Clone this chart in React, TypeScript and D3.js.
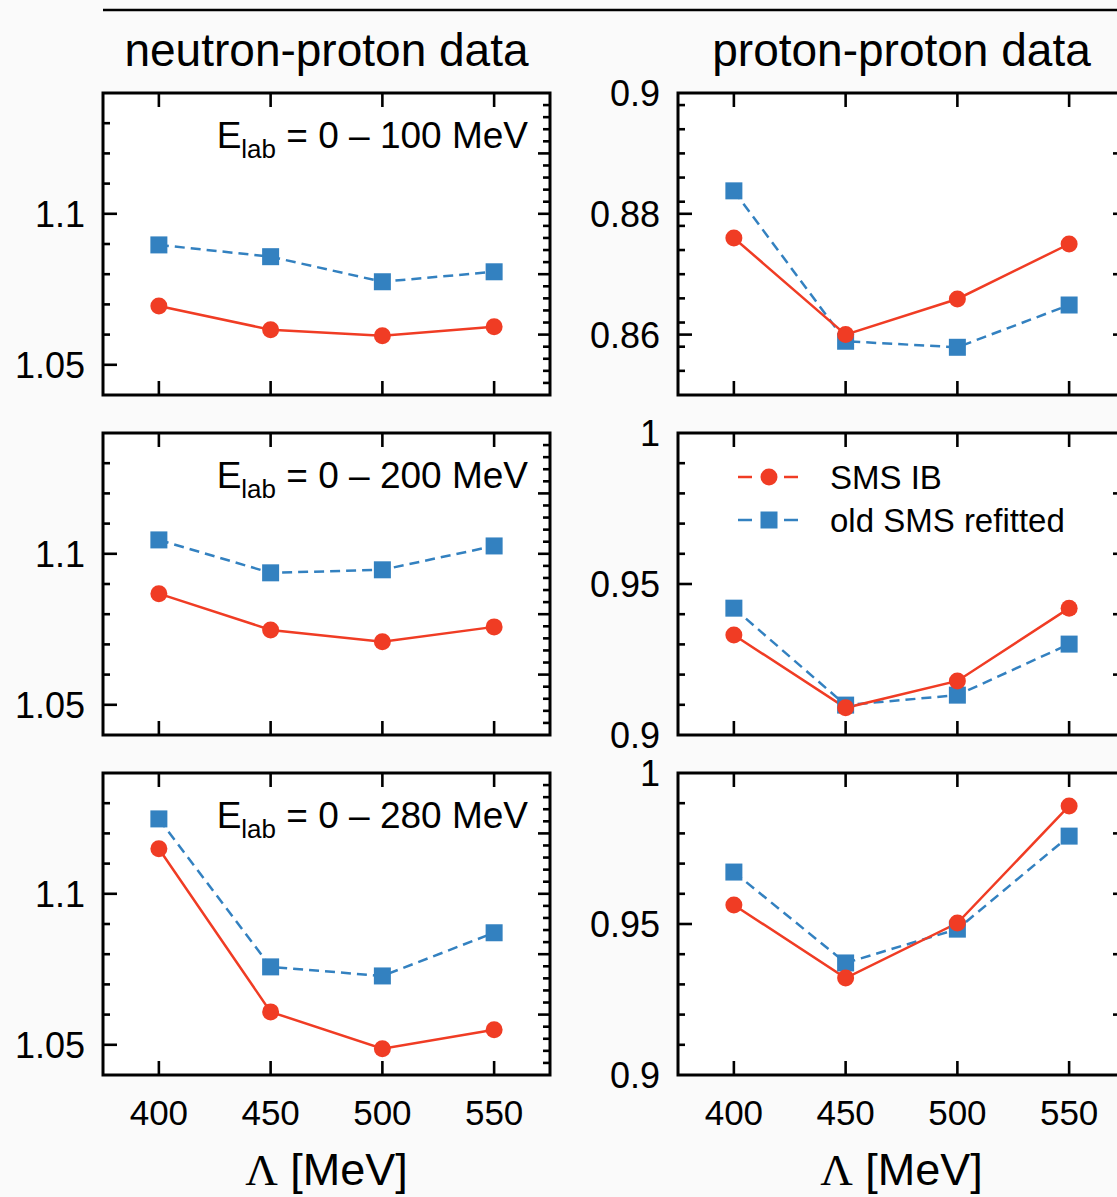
import React from "react";
import * as d3 from "d3";

const lambdas = [400, 450, 500, 550];
const energyRanges = ["0 – 100", "0 – 200", "0 – 280"];

// neutron-proton data (left column)
const npIB100 = [1.0695, 1.0616, 1.0596, 1.0626];
const npOld100 = [1.0897, 1.0858, 1.0775, 1.0808];
const npIB200 = [1.0868, 1.0748, 1.0709, 1.0758];
const npOld200 = [1.1046, 1.0937, 1.0947, 1.1026];
const npIB280 = [1.1149, 1.0609, 1.0487, 1.055];
const npOld280 = [1.1248, 1.0758, 1.0728, 1.0871];

// proton-proton data (right column)
const ppIB100 = [0.876, 0.86, 0.8659, 0.875];
const ppOld100 = [0.8838, 0.8589, 0.8579, 0.8649];
const ppIB200 = [0.9331, 0.909, 0.9179, 0.942];
const ppOld200 = [0.942, 0.9099, 0.9132, 0.9301];
const ppIB280 = [0.9563, 0.9321, 0.9503, 0.9891];
const ppOld280 = [0.9672, 0.9371, 0.9483, 0.9791];

const xTicks = [400, 450, 500, 550];
const xDomain = [375, 575];
const npDomain = [1.04, 1.14];
const ppDomains = [[0.85, 0.9], [0.9, 1.0], [0.9, 1.0]];
const npLabels = [1.05, 1.1];
const ppLabels = [[0.9, 0.88, 0.86], [1, 0.95, 0.9], [1, 0.95, 0.9]];

const legendLabels = ["SMS IB", "old SMS refitted"];

const RED = "#f03c24";
const BLUE = "#3381c0";
const FONT = "'Liberation Sans', Arial, Helvetica, sans-serif";

const W = 1117;
const H = 1197;
const PW = 447;
const PH = 302;
const COLX = [103, 678];
const ROWY = [93, 433, 773];

function range(a: number, b: number, step: number) {
  const out: number[] = [];
  const n = Math.round((b - a) / step);
  for (let i = 0; i <= n; i++) out.push(+(a + i * step).toFixed(6));
  return out;
}

function fmt(v: number) {
  return String(+v.toFixed(3));
}

type PanelProps = {
  x0: number;
  y0: number;
  domain: number[];
  ib: number[];
  old: number[];
  labels: number[];
  leftMajor: number[];
  leftMinorStep: number;
  rightMajorStep: number;
  rightMinorStep: number;
  rightMajorStart: number;
  energy?: string;
  showX: boolean;
  legend?: boolean;
};

function Panel(p: PanelProps) {
  const x = d3.scaleLinear().domain(xDomain).range([p.x0, p.x0 + PW]);
  const y = d3.scaleLinear().domain(p.domain).range([p.y0 + PH, p.y0]);
  const [d0, d1] = p.domain;
  const eps = 1e-9;
  const inside = (v: number) => v > d0 + eps && v < d1 - eps;
  const isIn = (v: number, arr: number[]) => arr.some((a) => Math.abs(a - v) < 1e-6);

  const leftMinor = range(d0, d1, p.leftMinorStep).filter((v) => inside(v) && !isIn(v, p.leftMajor));
  const rightMajor = range(p.rightMajorStart, d1, p.rightMajorStep).filter(inside);
  const rightMinor = range(d0, d1, p.rightMinorStep).filter((v) => inside(v) && !isIn(v, rightMajor));

  const line = d3
    .line<number>()
    .x((_, i) => x(lambdas[i]))
    .y((v) => y(v));

  const xr = p.x0 + PW;
  const yb = p.y0 + PH;
  const tk = { stroke: "#000", strokeWidth: 2.6 };

  return (
    <g>
      <rect x={p.x0} y={p.y0} width={PW} height={PH} fill="#fff" />
      {xTicks.map((t) => (
        <g key={"xt" + t}>
          <line x1={x(t)} x2={x(t)} y1={p.y0} y2={p.y0 + 14} {...tk} />
          <line x1={x(t)} x2={x(t)} y1={yb} y2={yb - 14} {...tk} />
        </g>
      ))}
      {p.leftMajor.filter(inside).map((t) => (
        <line key={"lM" + t} x1={p.x0} x2={p.x0 + 14} y1={y(t)} y2={y(t)} {...tk} />
      ))}
      {leftMinor.map((t) => (
        <line key={"lm" + t} x1={p.x0} x2={p.x0 + 7} y1={y(t)} y2={y(t)} {...tk} />
      ))}
      {rightMajor.map((t) => (
        <line key={"rM" + t} x1={xr} x2={xr - 12} y1={y(t)} y2={y(t)} {...tk} />
      ))}
      {rightMinor.map((t) => (
        <line key={"rm" + t} x1={xr} x2={xr - 7} y1={y(t)} y2={y(t)} {...tk} />
      ))}
      <rect x={p.x0} y={p.y0} width={PW} height={PH} fill="none" stroke="#000" strokeWidth={3} />
      {p.labels.map((t) => (
        <text
          key={"yl" + t}
          x={p.x0 - 18}
          y={y(t)}
          dy="0.36em"
          textAnchor="end"
          fontFamily={FONT}
          fontSize={36}
        >
          {fmt(t)}
        </text>
      ))}
      <path d={line(p.old) || ""} fill="none" stroke={BLUE} strokeWidth={2.5} strokeDasharray="10,6" />
      <path d={line(p.ib) || ""} fill="none" stroke={RED} strokeWidth={2.5} />
      {p.old.map((v, i) => (
        <rect key={"sq" + i} x={x(lambdas[i]) - 8.5} y={y(v) - 8.5} width={17} height={17} fill={BLUE} />
      ))}
      {p.ib.map((v, i) => (
        <circle key={"c" + i} cx={x(lambdas[i])} cy={y(v)} r={8.5} fill={RED} />
      ))}
      {p.energy && (
        <text x={p.x0 + 425} y={p.y0 + 55} textAnchor="end" fontFamily={FONT} fontSize={37}>
          E
          <tspan fontSize={26} dy={10}>
            lab
          </tspan>
          <tspan dy={-10}>{" = " + p.energy + " MeV"}</tspan>
        </text>
      )}
      {p.showX &&
        xTicks.map((t) => (
          <text key={"xl" + t} x={x(t)} y={yb + 50} textAnchor="middle" fontFamily={FONT} fontSize={35}>
            {t}
          </text>
        ))}
      {p.showX && (
        <text x={p.x0 + PW / 2} y={yb + 110} textAnchor="middle" fontFamily={FONT} fontSize={45}>
          <tspan fontFamily="'Liberation Serif', 'Times New Roman', serif">Λ</tspan>
          {" [MeV]"}
        </text>
      )}
      {p.legend && (
        <g fontFamily={FONT} fontSize={33}>
          {legendLabels.map((lab, i) => {
            const ly = p.y0 + 44 + i * 43;
            const col = i === 0 ? RED : BLUE;
            const lx = p.x0 + 91;
            return (
              <g key={lab}>
                <line x1={lx - 31} x2={lx - 17} y1={ly} y2={ly} stroke={col} strokeWidth={2.5} />
                <line x1={lx + 15} x2={lx + 29} y1={ly} y2={ly} stroke={col} strokeWidth={2.5} />
                {i === 0 ? (
                  <circle cx={lx} cy={ly} r={8.5} fill={col} />
                ) : (
                  <rect x={lx - 8.5} y={ly - 8.5} width={17} height={17} fill={col} />
                )}
                <text x={p.x0 + 152} y={ly} dy="0.36em">
                  {lab}
                </text>
              </g>
            );
          })}
        </g>
      )}
    </g>
  );
}

export default function App() {
  const npIB = [npIB100, npIB200, npIB280];
  const npOld = [npOld100, npOld200, npOld280];
  const ppIB = [ppIB100, ppIB200, ppIB280];
  const ppOld = [ppOld100, ppOld200, ppOld280];

  return (
    <svg
      width={W}
      height={H}
      viewBox={`0 0 ${W} ${H}`}
      style={{ position: "absolute", left: 0, top: 0, display: "block" }}
    >
      <rect x={0} y={0} width={W} height={H} fill="#fafafa" />
      <line x1={COLX[0]} x2={W} y1={10} y2={10} stroke="#000" strokeWidth={2.6} />
      <text x={COLX[0] + PW / 2} y={66} textAnchor="middle" fontFamily={FONT} fontSize={46}>
        neutron-proton data
      </text>
      <text x={COLX[1] + PW / 2} y={66} textAnchor="middle" fontFamily={FONT} fontSize={46}>
        proton-proton data
      </text>
      {[0, 1, 2].map((r) => (
        <g key={"row" + r}>
          <Panel
            x0={COLX[0]}
            y0={ROWY[r]}
            domain={npDomain}
            ib={npIB[r]}
            old={npOld[r]}
            labels={npLabels}
            leftMajor={npLabels}
            leftMinorStep={0.01}
            rightMajorStep={0.02}
            rightMinorStep={0.004}
            rightMajorStart={1.06}
            energy={energyRanges[r]}
            showX={r === 2}
          />
          <Panel
            x0={COLX[1]}
            y0={ROWY[r]}
            domain={ppDomains[r]}
            ib={ppIB[r]}
            old={ppOld[r]}
            labels={ppLabels[r]}
            leftMajor={ppLabels[r]}
            leftMinorStep={r === 0 ? 0.004 : 0.01}
            rightMajorStep={r === 0 ? 0.01 : 0.02}
            rightMinorStep={r === 0 ? 0.002 : 0.004}
            rightMajorStart={r === 0 ? 0.85 : 0.9}
            showX={r === 2}
            legend={r === 1}
          />
        </g>
      ))}
    </svg>
  );
}
